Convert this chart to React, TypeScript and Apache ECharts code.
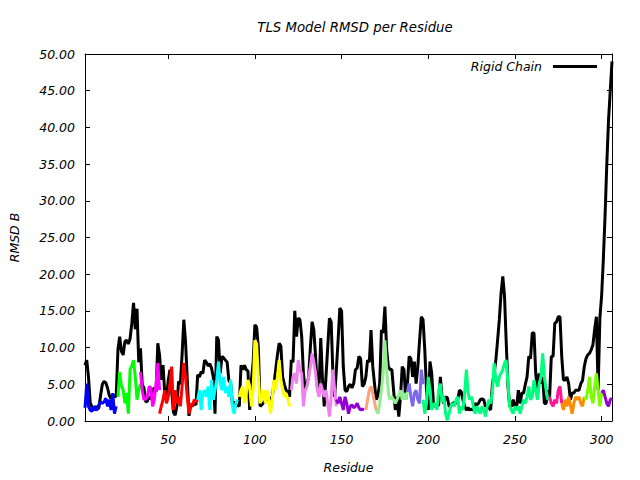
import { useEffect, useRef } from 'react';
import * as echarts from 'echarts';

// Residue axis
const residueMin = 2;
const residueMax = 306;
const xTickValues = [50, 100, 150, 200, 250, 300];

// Rigid chain RMSD B, residues 2..306
const rigidStart = 2;
const rigidChain = [
  7.6, 8.3, 6.0, 2.5, 1.9, 1.7, 2.0, 1.6, 1.8, 3.5,
  5.0, 5.4, 5.2, 4.5, 3.5, 3.0, 3.6, 3.3, 3.4, 9.7,
  11.5, 9.5, 9.0, 10.8, 11.0, 10.5, 11.2, 13.3, 16.1, 12.5,
  15.3, 8.0, 9.9, 5.0, 4.5, 2.6, 2.7, 3.3, 3.0, 4.2,
  4.5, 4.0, 10.6, 9.0, 5.6, 7.6, 3.8, 3.3, 5.5, 7.0,
  4.0, 1.2, 0.8, 2.0, 5.4, 5.0, 9.0, 13.8, 10.8, 5.6,
  0.7, 2.2, 2.0, 2.4, 2.2, 6.3, 6.0, 6.7, 6.5, 8.3,
  8.0, 7.5, 7.8, 7.2, 6.0, 1.0, 11.5, 11.0, 6.5, 8.8,
  8.6, 8.3, 8.0, 5.5, 5.2, 2.4, 2.6, 2.0, 2.2, 2.0,
  7.6, 7.0, 7.6, 7.0, 6.8, 1.5, 5.6, 8.0, 13.1, 12.8,
  10.0, 2.0, 2.2, 2.5, 2.8, 3.2, 2.8, 3.0, 3.3, 5.0,
  7.0, 9.0, 10.6, 10.2, 6.0, 5.0, 4.2, 4.0, 3.3, 8.3,
  8.0, 15.0, 11.5, 14.0, 13.8, 11.5, 6.5, 4.2, 5.0, 6.0,
  10.0, 13.5, 12.4, 8.8, 4.7, 4.5, 11.3, 5.6, 2.0, 6.0,
  10.0, 14.0, 13.5, 6.5, 3.3, 7.0, 11.0, 15.4, 15.0, 7.4,
  4.2, 4.0, 4.7, 5.0, 4.5, 5.1, 7.0, 7.2, 8.8, 8.5,
  4.7, 5.0, 6.0, 8.3, 8.0, 12.4, 7.4, 5.1, 2.9, 3.5,
  5.1, 12.4, 12.0, 15.6, 9.7, 7.4, 7.0, 7.0, 4.2, 1.5,
  3.3, 0.6, 3.3, 7.4, 7.0, 2.9, 5.1, 8.8, 8.5, 6.0,
  8.1, 5.1, 7.4, 11.0, 14.2, 13.8, 9.7, 4.2, 1.5, 8.1,
  6.5, 2.4, 2.0, 2.0, 2.2, 6.0, 3.0, 2.4, 3.3, 3.2,
  2.0, 2.0, 2.4, 2.5, 2.4, 2.9, 4.2, 4.0, 2.9, 2.0,
  1.5, 1.8, 1.5, 1.6, 1.5, 2.4, 2.2, 2.4, 2.9, 3.0,
  2.9, 2.0, 2.0, 1.8, 1.5, 5.0, 6.5, 8.3, 11.0, 13.8,
  17.4, 19.7, 17.0, 10.6, 4.7, 2.0, 2.0, 2.9, 2.0, 2.0,
  4.2, 2.4, 3.8, 3.8, 5.0, 6.0, 8.8, 8.5, 12.0, 12.0,
  6.5, 4.2, 6.5, 5.1, 6.0, 2.4, 2.4, 4.2, 3.3, 8.8,
  8.8, 13.3, 13.5, 14.2, 14.2, 8.8, 5.6, 5.6, 6.0, 5.1,
  2.9, 3.8, 3.8, 4.2, 4.2, 4.2, 5.1, 5.5, 7.4, 8.5,
  9.0, 9.2, 9.7, 10.4, 12.5, 14.2, 4.2, 14.0, 17.0, 22.0,
  28.0, 35.0, 41.0, 45.0, 49.0,
];

// TLS groups: start residue + per-residue RMSD B
const group1Start = 2;
const group1 = [1.8, 5.1, 2.0, 1.5, 1.3, 2.0, 1.5, 1.6, 2.2, 2.6, 2.4, 2.6, 3.1, 2.0, 2.9, 1.5, 3.8, 1.0, 2.0];
const group2Start = 21;
const group2 = [3.3, 6.7, 4.8, 4.2, 2.4, 3.8, 1.0, 7.0, 7.5, 8.3, 6.0, 2.9, 4.2, 5.1];
const group3Start = 34;
const group3 = [6.7, 4.2, 2.9, 3.0, 3.3, 4.7, 4.5, 2.0, 2.9, 5.1, 7.9, 4.2];
const group4Start = 45;
const group4 = [1.0, 2.0, 2.9, 4.2, 2.4, 3.3, 5.0, 7.4, 1.5, 4.2, 2.4, 3.3, 2.0, 4.7, 7.9, 6.0, 3.3, 1.0, 2.4, 2.0, 2.9, 2.6, 2.9];
const group5Start = 67;
const group5 = [2.9, 4.2, 1.5, 3.8, 4.2, 3.3, 4.7, 1.5, 5.6, 2.9, 4.2, 5.6, 8.1, 5.1, 4.2, 6.0, 3.8, 4.7, 3.3, 5.6, 2.0, 1.0, 2.4, 2.9];
const group6Start = 91;
const group6 = [3.3, 4.2, 4.7, 2.4, 3.8, 5.6, 4.7, 2.0, 4.2, 11.0, 10.5, 6.0, 2.4, 3.3, 4.2, 2.4, 4.2, 3.0, 1.0, 2.9, 5.6, 4.2, 6.0, 8.3, 5.6, 4.2, 3.3, 3.8, 3.0, 2.0];
const group7Start = 121;
const group7 = [4.2, 6.0, 6.5, 5.1, 8.3, 7.0, 6.5, 2.0, 4.2, 4.7, 6.0, 7.4, 9.2, 8.0, 6.5, 4.2, 3.3, 5.1, 4.2, 3.3, 4.2, 2.4, 0.6, 3.3, 7.0, 4.2, 2.0];
const group8Start = 147;
const group8 = [2.9, 2.4, 3.3, 2.4, 1.5, 3.3, 2.4, 1.0, 2.0, 2.2, 1.8, 2.0, 2.4, 1.8, 1.5, 1.6, 1.5];
const group9Start = 164;
const group9 = [1.5, 2.9, 4.2, 4.7, 3.8, 2.6, 1.5];
const group10Start = 170;
const group10 = [1.5, 1.0, 2.4, 4.2, 6.5, 11.0, 7.0, 3.8, 2.9, 3.3, 2.9, 2.4, 2.9, 3.5, 4.2, 2.9, 3.8, 2.9, 4.0];
const group11Start = 188;
const group11 = [4.0, 5.1, 3.3, 2.0, 3.8, 4.2, 2.9, 2.4, 7.0, 5.0];
const group12Start = 197;
const group12 = [
  2.9, 1.0, 2.4, 6.0, 4.2, 1.5, 2.2, 2.4, 1.5, 4.2,
  5.1, 2.5, 3.3, 1.0, 0.1, 1.0, 2.0, 2.4, 2.0, 2.9,
  3.3, 1.0, 2.0, 1.5, 3.8, 7.0, 3.8, 2.9, 3.3, 2.0,
  1.0, 2.0, 1.5, 1.0, 2.0, 1.5, 0.6, 2.0, 2.9, 2.4,
  3.8, 7.9, 5.6, 4.7, 6.0, 6.5, 7.0, 7.9, 8.3, 5.1,
  2.0, 1.5, 1.0, 2.0, 1.5, 2.0, 1.0, 2.0, 2.9, 2.4,
  3.3, 4.7, 2.9, 3.3, 5.6, 4.2, 2.9, 5.1, 6.0, 9.2,
  6.0, 4.2, 2.9, 3.3,
];
const group13Start = 270;
const group13 = [3.3, 2.4, 2.0, 2.9, 2.4, 4.2, 4.7, 2.4];
const group14Start = 277;
const group14 = [2.4, 1.5, 2.9, 2.0, 3.3, 2.2, 1.0, 2.4, 3.3, 2.9, 3.3, 2.4, 2.0, 3.3];
const group15Start = 290;
const group15 = [3.3, 2.9, 4.2, 6.0, 3.3, 2.4, 4.7, 6.5, 4.2, 2.0, 3.8];
const group16Start = 300;
const group16 = [3.8, 4.2, 3.3, 2.4, 2.0, 2.9, 3.1];

const groupColors = [
  '#0000ff', '#00ff00', '#ff00ff', '#ff0000', '#00ffff', '#ffff00', '#ee82ee', '#9400d3',
  '#ffa07a', '#90ee90', '#7b68ee', '#00ff7f', '#ff1493', '#ff8c00', '#7cfc00', '#9400d3',
];

const FONT = 'DejaVu Sans';

function toPoints(start: number, values: number[]) {
  return values.map((v, i) => [start + i, v]);
}

export default function App() {
  const ref = useRef<HTMLDivElement>(null);
  useEffect(() => {
    if (!ref.current) return;
    const chart = echarts.init(ref.current, undefined, { renderer: 'svg' });
    const groups: [number, number[]][] = [
      [group1Start, group1], [group2Start, group2], [group3Start, group3], [group4Start, group4],
      [group5Start, group5], [group6Start, group6], [group7Start, group7], [group8Start, group8],
      [group9Start, group9], [group10Start, group10], [group11Start, group11], [group12Start, group12],
      [group13Start, group13], [group14Start, group14], [group15Start, group15], [group16Start, group16],
    ];
    const labelStyle = { color: '#000', fontSize: 12.5, fontStyle: 'italic' as const, fontFamily: FONT };
    const series: any[] = [
      {
        name: 'Rigid Chain',
        type: 'line',
        data: toPoints(rigidStart, rigidChain),
        showSymbol: false,
        symbol: 'none',
        lineStyle: { color: '#000', width: 3 },
        itemStyle: { color: '#000' },
        z: 2,
      },
      ...groups.map(([s, vals], i) => ({
        name: 'TLS Group ' + (i + 1),
        type: 'line',
        data: toPoints(s, vals),
        showSymbol: false,
        symbol: 'none',
        lineStyle: { color: groupColors[i], width: 3 },
        itemStyle: { color: groupColors[i] },
        z: 3,
      })),
    ];
    const baseAxisLine = { show: true, onZero: false, lineStyle: { color: '#000', width: 1 } };
    chart.setOption({
      animation: false,
      backgroundColor: '#fff',
      textStyle: { fontFamily: FONT, fontStyle: 'italic' },
      grid: { left: 85, right: 28, top: 54, bottom: 59 },
      graphic: [
        {
          type: 'text',
          x: 355,
          y: 27,
          style: {
            text: 'TLS Model RMSD per Residue',
            fill: '#000',
            fontSize: 13.3,
            fontStyle: 'italic',
            fontFamily: FONT,
            align: 'center',
            verticalAlign: 'middle',
            textAlign: 'center',
            textVerticalAlign: 'middle',
          },
        },
      ],
      legend: {
        data: [{ name: 'Rigid Chain', icon: 'rect' }],
        right: 43,
        top: 60,
        padding: 0,
        align: 'right',
        itemWidth: 44,
        itemHeight: 3,
        textStyle: { ...labelStyle, padding: [0, 6, 0, 0] },
        selectedMode: false,
      },
      xAxis: [
        {
          type: 'value',
          min: residueMin,
          max: residueMax,
          position: 'bottom',
          name: 'Residue',
          nameLocation: 'middle',
          nameGap: 40,
          nameTextStyle: labelStyle,
          axisLine: baseAxisLine,
          axisTick: { show: true, inside: true, length: 5, customValues: xTickValues, lineStyle: { color: '#000' } },
          axisLabel: { ...labelStyle, customValues: xTickValues, margin: 12 },
          splitLine: { show: false },
        },
        {
          type: 'value',
          min: residueMin,
          max: residueMax,
          position: 'top',
          axisLine: baseAxisLine,
          axisTick: { show: true, inside: true, length: 5, customValues: xTickValues, lineStyle: { color: '#000' } },
          axisLabel: { show: false, customValues: xTickValues },
          splitLine: { show: false },
        },
      ],
      yAxis: [
        {
          type: 'value',
          min: 0,
          max: 50,
          interval: 5,
          position: 'left',
          name: 'RMSD B',
          nameLocation: 'middle',
          nameGap: 64,
          nameTextStyle: labelStyle,
          axisLine: baseAxisLine,
          axisTick: { show: true, inside: true, length: 5, lineStyle: { color: '#000' } },
          axisLabel: { ...labelStyle, margin: 10, formatter: (v: number) => v.toFixed(2) },
          splitLine: { show: false },
        },
        {
          type: 'value',
          min: 0,
          max: 50,
          interval: 5,
          position: 'right',
          axisLine: baseAxisLine,
          axisTick: { show: true, inside: true, length: 5, lineStyle: { color: '#000' } },
          axisLabel: { show: false },
          splitLine: { show: false },
        },
      ],
      series,
    });
    return () => chart.dispose();
  }, []);
  return <div ref={ref} style={{ position: 'fixed', left: 0, top: 0, width: 640, height: 480 }} />;
}
